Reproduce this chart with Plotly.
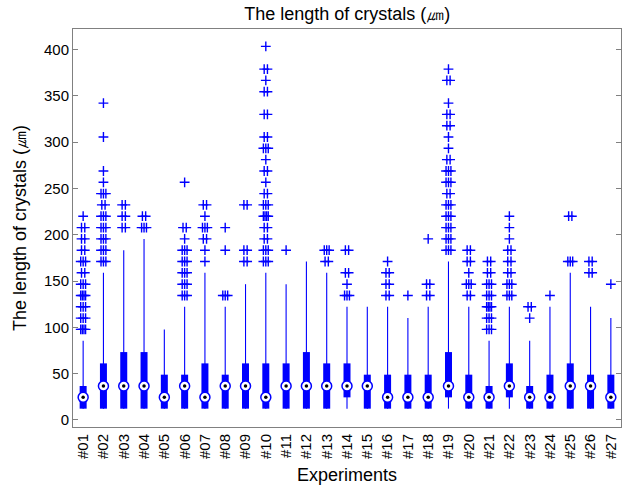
import numpy as np
import plotly.graph_objects as go

# Crystal length statistics per experiment (um)
experiments = ["#%02d" % i for i in range(1, 28)]

q1 = [12.2, 12.2, 12.2, 12.2, 12.2, 12.2, 12.2, 12.2, 12.2, 12.2,
      12.2, 12.2, 12.2, 24.4, 12.2, 12.2, 12.2, 12.2, 24.4, 12.2,
      12.2, 24.4, 12.2, 12.2, 12.2, 12.2, 12.2]
medians = [24.4, 36.7, 36.7, 36.7, 24.4, 36.7, 24.4, 36.7, 36.7, 24.4,
           36.7, 36.7, 36.7, 36.7, 36.7, 24.4, 24.4, 24.4, 36.7, 24.4,
           24.4, 36.7, 24.4, 24.4, 36.7, 36.7, 24.4]
q3 = [36.7, 61.1, 73.3, 73.3, 48.9, 48.9, 61.1, 48.9, 61.1, 61.1,
      61.1, 73.3, 61.1, 61.1, 48.9, 48.9, 48.9, 48.9, 73.3, 48.9,
      36.7, 61.1, 36.7, 48.9, 61.1, 48.9, 48.9]
whisker_low = [12.2] * 27
whisker_high = [85.5, 158.9, 183.3, 195.5, 97.8, 122.2, 158.9, 122.2, 146.6, 158.9,
                146.6, 171.1, 158.9, 122.2, 122.2, 122.2, 110.0, 122.2, 171.1, 122.2,
                85.5, 122.2, 85.5, 122.2, 158.9, 122.2, 110.0]

outliers = [
    [97.8]*4 + [110.0]*3 + [122.2]*3 + [134.4]*4 + [146.6]*3 + [158.9]*2 + [171.1]*3
    + [183.3]*2 + [195.5]*2 + [207.7]*2 + [220.0],
    [171.1]*3 + [183.3]*3 + [195.5]*3 + [207.7]*3 + [220.0]*3 + [232.2]*2 + [244.4]*3
    + [256.6] + [268.8] + [305.5] + [342.1],
    [207.7]*2 + [220.0]*2 + [232.2]*2,
    [207.7]*3 + [220.0]*2,
    [],
    [134.4]*3 + [146.6]*3 + [158.9]*3 + [171.1]*3 + [183.3]*3 + [195.5] + [207.7]*2 + [256.6],
    [171.1] + [183.3] + [195.5]*2 + [207.7]*3 + [220.0] + [232.2]*2,
    [134.4]*3 + [183.3] + [207.7],
    [171.1]*2 + [183.3]*2 + [232.2]*2,
    [171.1]*3 + [183.3]*3 + [195.5]*2 + [207.7]*2 + [220.0]*4 + [232.2]*3 + [244.4]*2
    + [256.6] + [268.8]*2 + [281.1] + [293.3]*3 + [305.5]*2 + [329.9]*2 + [354.4]*2
    + [366.6] + [378.8]*2 + [403.3],
    [183.3],
    [],
    [171.1]*2 + [183.3]*3,
    [134.4]*3 + [146.6] + [158.9]*2 + [183.3]*2,
    [],
    [134.4]*2 + [146.6]*2 + [158.9]*2 + [171.1],
    [134.4],
    [134.4]*2 + [146.6]*2 + [195.5],
    [183.3]*3 + [195.5]*3 + [207.7]*3 + [220.0]*3 + [232.2]*3 + [244.4]*2 + [256.6]*3
    + [268.8]*3 + [281.1]*2 + [293.3] + [305.5] + [317.7]*2 + [329.9]*2 + [342.1]
    + [366.6]*2 + [378.8],
    [134.4]*2 + [146.6]*3 + [158.9] + [171.1]*2 + [183.3]*2,
    [97.8]*3 + [110.0]*3 + [122.2]*4 + [134.4]*3 + [146.6]*3 + [158.9]*2 + [171.1]*2,
    [134.4]*3 + [146.6]*3 + [158.9]*2 + [171.1]*2 + [183.3]*2 + [195.5] + [207.7] + [220.0],
    [110.0] + [122.2]*2,
    [134.4],
    [171.1]*3 + [220.0]*2,
    [158.9]*2 + [171.1]*2,
    [146.6],
]

BLUE = "#0000ff"
GREY = "#808080"
FONT = "Liberation Sans, Arial, Helvetica, sans-serif"

positions = np.arange(1, len(experiments) + 1)

# whiskers and boxes as vertical segments separated by gaps
wx, wy, bx, by = [], [], [], []
for p, lo, hi, a, b in zip(positions, whisker_low, whisker_high, q1, q3):
    wx += [p, p, None]
    wy += [lo, hi, None]
    bx += [p, p, None]
    by += [a, b, None]

# outliers: repeated values are spread slightly sideways
ox, oy = [], []
for p, vals in zip(positions, outliers):
    uniq, counts = np.unique(vals, return_counts=True) if vals else ([], [])
    for v, n in zip(uniq, counts):
        if n == 1:
            offs = [0.0]
        else:
            w = 0.08 if n == 2 else 0.12
            offs = np.linspace(-w, w, n)
        for o in offs:
            ox.append(p + o)
            oy.append(v)

fig = go.Figure()
fig.add_trace(go.Scatter(x=wx, y=wy, mode="lines",
                         line=dict(color=BLUE, width=1.1), hoverinfo="skip"))
fig.add_trace(go.Scatter(x=bx, y=by, mode="lines",
                         line=dict(color=BLUE, width=7), hoverinfo="skip"))
fig.add_trace(go.Scatter(x=ox, y=oy, mode="markers",
                         marker=dict(symbol="cross-thin", size=7,
                                     line=dict(color=BLUE, width=1.4))))
fig.add_trace(go.Scatter(x=positions, y=medians, mode="markers",
                         marker=dict(symbol="circle", size=10, color="white",
                                     line=dict(color=BLUE, width=1.5))))
fig.add_trace(go.Scatter(x=positions, y=medians, mode="markers",
                         marker=dict(symbol="circle", size=3.5, color="black")))

fig.update_layout(
    width=628, height=488,
    margin=dict(l=73, r=7, t=29, b=61),
    paper_bgcolor="white", plot_bgcolor="white",
    showlegend=False,
    font=dict(family=FONT, size=15, color="black"),
    title=dict(text="The length of crystals (㎛)", x=0.553, xanchor="center",
               y=0.972, yanchor="middle", yref="container",
               font=dict(family=FONT, size=18, color="black")),
)
fig.update_xaxes(
    range=[0.5, 27.5], tickmode="array", tickvals=positions, ticktext=experiments,
    tickangle=-90, ticks="", showgrid=False, zeroline=False,
    showline=True, linecolor=GREY, linewidth=1, mirror=True,
    tickfont=dict(size=15),
    title=dict(text="Experiments", font=dict(size=18), standoff=10),
)
fig.update_yaxes(
    range=[-7.6, 422.1], tickmode="array", tickvals=list(range(0, 401, 50)),
    ticks="inside", ticklen=5, tickcolor=GREY, showgrid=False, zeroline=False,
    showline=True, linecolor=GREY, linewidth=1, mirror="ticks",
    tickfont=dict(size=15),
    title=dict(text="The length of crystals (㎛)", font=dict(size=18), standoff=12),
)

fig.write_html("out.html")
